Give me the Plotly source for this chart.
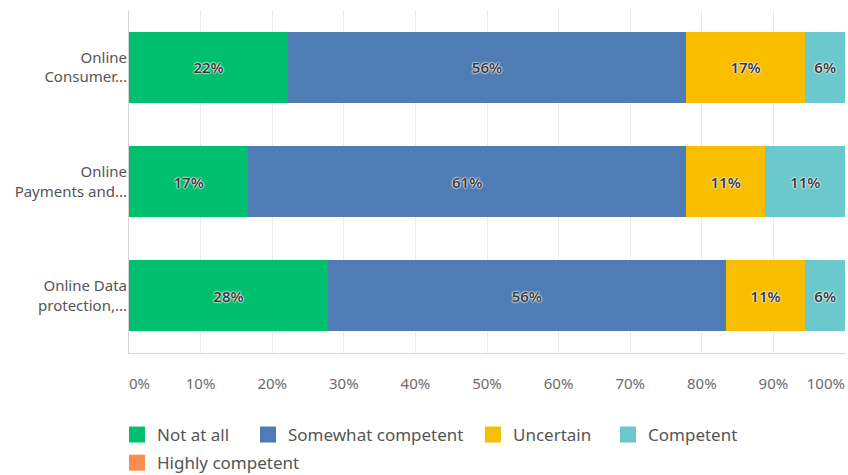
import plotly.graph_objects as go

# Survey results: share of respondents per competence level (n = 18)
categories = [
    "Online<br>Consumer...",
    "Online<br>Payments and...",
    "Online Data<br>protection,...",
]
levels = ["Not at all", "Somewhat competent", "Uncertain", "Competent", "Highly competent"]
not_at_all = [22.22, 16.67, 27.78]
somewhat_competent = [55.56, 61.11, 55.56]
uncertain = [16.67, 11.11, 11.11]
competent = [5.56, 11.11, 5.56]
highly_competent = [0, 0, 0]
x_tick_vals = [10, 20, 30, 40, 50, 60, 70, 80, 90]
x_tick_text = ["10%", "20%", "30%", "40%", "50%", "60%", "70%", "80%", "90%"]

colors = ["#00BF6F", "#507CB6", "#F9BE00", "#6BC8CD", "#FF8B4F"]
series = [not_at_all, somewhat_competent, uncertain, competent, highly_competent]

# Legend entry placement (paper coords): flowing row, wrapping the last entry
legend_slots = [(-0.0168, -0.239), (0.1662, -0.239), (0.4804, -0.239),
                (0.669, -0.239), (-0.0168, -0.321)]

FONT = "Noto Sans"
halo = "0 0 2px #fff, 0 0 2px #fff, 0 0 1px #fff"

fig = go.Figure()
for name, vals, col in zip(levels, series, colors):
    fig.add_trace(go.Bar(
        y=categories, x=vals, name=name, orientation="h",
        marker=dict(color=col, line=dict(width=0)),
        text=[f"{v:.0f}%" if v > 0 else "" for v in vals],
        texttemplate="%{text}",
        textposition="inside", insidetextanchor="middle",
        textfont=dict(family=FONT, size=15, color="#3a3a3a", weight=600, shadow=halo),
        constraintext="none",
        showlegend=False, hoverinfo="skip",
    ))

# Legend entries with larger square swatches, one legend box per entry
legend_layouts = {}
for i, (name, col) in enumerate(zip(levels, colors)):
    key = "legend" if i == 0 else f"legend{i + 1}"
    fig.add_trace(go.Scatter(
        x=[None], y=[None], mode="markers", name=name,
        marker=dict(symbol="square", size=16, color=col),
        xaxis="x2" if i % 2 == 0 else "x3",
        legend=key,
    ))
    lx, ly = legend_slots[i]
    legend_layouts[key] = dict(
        orientation="h", x=lx, xanchor="left", y=ly, yanchor="middle",
        font=dict(family=FONT, size=17, color="#555555"),
        itemclick=False, itemdoubleclick=False, bgcolor="rgba(0,0,0,0)",
    )

axis_font = dict(family=FONT, size=15, color="#6b6b6b")
fig.update_layout(
    barmode="stack",
    bargap=0.38,
    width=848, height=475,
    margin=dict(l=129, r=3, t=10, b=122, autoexpand=False),
    paper_bgcolor="white", plot_bgcolor="white",
    font=dict(family=FONT),
    xaxis=dict(
        range=[0, 100], tickvals=x_tick_vals, ticktext=x_tick_text,
        showgrid=True, gridcolor="#ebebeb", gridwidth=1,
        showline=True, linecolor="#d5d5d5", linewidth=1,
        ticks="", ticklabelstandoff=17, tickfont=axis_font,
        zeroline=False, fixedrange=True,
    ),
    xaxis2=dict(
        range=[0, 100], overlaying="x", tickvals=[0], ticktext=["0%"],
        ticklabelposition="outside right", ticklabelstandoff=20,
        showgrid=False, showline=False, ticks="", tickfont=axis_font,
        zeroline=False,
    ),
    xaxis3=dict(
        range=[0, 100], overlaying="x", tickvals=[100], ticktext=["100%"],
        ticklabelposition="outside left", ticklabelstandoff=20,
        showgrid=False, showline=False, ticks="", tickfont=axis_font,
        zeroline=False,
    ),
    yaxis=dict(
        autorange="reversed", showline=True, linecolor="#d5d5d5", linewidth=1,
        ticks="", tickfont=dict(family=FONT, size=15, color="#555555"),
        ticklabelstandoff=-2, showgrid=False,
    ),
    **legend_layouts,
)

fig.write_html("out.html")
